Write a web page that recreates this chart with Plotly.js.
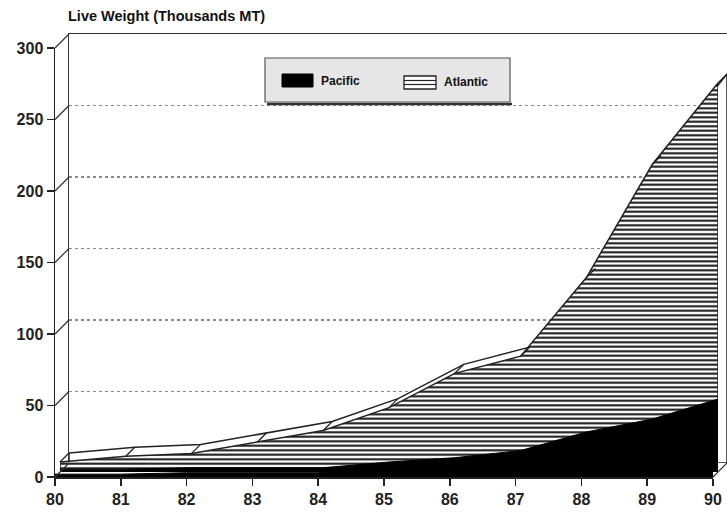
<!DOCTYPE html>
<html>
<head>
<meta charset="utf-8">
<script src="https://cdn.plot.ly/plotly-3.0.1.min.js"></script>
<style>
  html, body { margin: 0; padding: 0; background: #ffffff; }
  #chart { width: 727px; height: 512px; }
</style>
</head>
<body>
<div id="chart"></div>
<script>
// ---- data ----
const years = [80, 81, 82, 83, 84, 85, 86, 87, 88, 89, 90];
const yearLabels = ['80', '81', '82', '83', '84', '85', '86', '87', '88', '89', '90'];
const pacific = [2, 2, 3, 3, 3, 7, 10, 15, 28, 37, 51];
const atlantic = [7, 11, 13, 21, 29, 45, 69, 81, 136, 215, 272];
const yTicks = [0, 50, 100, 150, 200, 250, 300];
const seriesNames = ['Pacific', 'Atlantic'];
const titleText = 'Live Weight (Thousands MT)';

// ---- geometry of the pseudo-3D frame (pixels) ----
const L = 55, R = 0, T = 34, B = 35;
const W = 727 - L - R, H = 512 - T - B;   // paper size
const FX = 658, FY = 429;                // front plot size
const DMID = 5, DBACK = 14;              // depth offsets
const xMin = 80, xMax = 90, yMax = 300;
const kx = FX / (xMax - xMin), ky = FY / yMax;

function dom(off, size, total) { return [off / total, (off + size) / total]; }
function px(xpx) { return xpx / W; }          // pixel offset from plot-left -> paper x
function py(ypx) { return ypx / H; }          // pixel offset from plot-bottom -> paper y
function ax(absX) { return (absX - L) / W; }  // absolute page x -> paper x
function ay(absY) { return (512 - B - absY) / H; } // absolute page y -> paper y

// closed polygons built from the data arrays
function poly(vals) {
  return {
    x: years.concat([years[years.length - 1], years[0], years[0]]),
    y: vals.concat([0, 0, vals[0]])
  };
}
const pacPoly = poly(pacific);
const atlPoly = poly(atlantic);

const traces = [
  // Atlantic ribbon back edge (top surface), back layer
  { type: 'scatter', mode: 'lines', x: atlPoly.x, y: atlPoly.y, xaxis: 'x', yaxis: 'y',
    fill: 'toself', fillcolor: '#ffffff', line: { color: '#222', width: 1.5 },
    showlegend: false, hoverinfo: 'skip' },
  // Atlantic front face (hatched)
  { type: 'scatter', mode: 'lines', name: seriesNames[1], x: atlPoly.x, y: atlPoly.y,
    xaxis: 'x2', yaxis: 'y2', fill: 'toself', fillcolor: '#ffffff',
    fillpattern: { shape: '-', size: 4.5, solidity: 0.45, fgcolor: '#111', bgcolor: '#ffffff' },
    line: { color: '#222', width: 1.5 }, showlegend: false },
  // Pacific ribbon back edge
  { type: 'scatter', mode: 'lines', x: pacPoly.x, y: pacPoly.y, xaxis: 'x2', yaxis: 'y2',
    fill: 'toself', fillcolor: '#000000', line: { color: '#000', width: 1 },
    showlegend: false, hoverinfo: 'skip' },
  // Pacific front face
  { type: 'scatter', mode: 'lines', name: seriesNames[0], x: pacPoly.x, y: pacPoly.y,
    xaxis: 'x3', yaxis: 'y3', fill: 'toself', fillcolor: '#000000',
    line: { color: '#000', width: 1 }, showlegend: false }
];

const shapes = [];
// depth lines at each y tick (front axis -> back wall)
yTicks.forEach(v => {
  shapes.push({ type: 'line', xref: 'paper', yref: 'paper',
    x0: 0, y0: py(v * ky), x1: px(DBACK), y1: py(v * ky + DBACK),
    line: { color: '#333', width: 1.2 }, layer: 'above' });
});
// floor edge at the last year
shapes.push({ type: 'line', xref: 'paper', yref: 'paper',
  x0: px(FX), y0: 0, x1: px(FX + DBACK), y1: py(DBACK),
  line: { color: '#333', width: 1.2 }, layer: 'above' });
// facet edges of the Atlantic ribbon top surface
years.forEach((yr, i) => {
  const x0 = DMID + (yr - xMin) * kx, y0 = DMID + atlantic[i] * ky;
  shapes.push({ type: 'line', xref: 'paper', yref: 'paper',
    x0: px(x0), y0: py(y0), x1: px(x0 + DBACK - DMID), y1: py(y0 + DBACK - DMID),
    line: { color: '#222', width: 1.3 }, layer: 'above' });
});
// ---- legend box (drawn by hand to match the original key) ----
shapes.push({ type: 'line', xref: 'paper', yref: 'paper',   // shadow
  x0: ax(267), x1: ax(512), y0: ay(104), y1: ay(104),
  line: { color: '#333', width: 2.5 }, layer: 'above' });
shapes.push({ type: 'rect', xref: 'paper', yref: 'paper',
  x0: ax(265), x1: ax(510), y0: ay(102), y1: ay(58),
  fillcolor: '#e6e6e6', line: { color: '#555', width: 1.2 }, layer: 'above' });
// Pacific swatch
shapes.push({ type: 'rect', xref: 'paper', yref: 'paper',
  x0: ax(282), x1: ax(313), y0: ay(87), y1: ay(74),
  fillcolor: '#000000', line: { color: '#000', width: 1 }, layer: 'above' });
// Atlantic swatch
shapes.push({ type: 'rect', xref: 'paper', yref: 'paper',
  x0: ax(404), x1: ax(436), y0: ay(89), y1: ay(76),
  fillcolor: '#ffffff', line: { color: '#222', width: 1.3 }, layer: 'above' });
[80.5, 84.5].forEach(yy => {
  shapes.push({ type: 'line', xref: 'paper', yref: 'paper',
    x0: ax(404), x1: ax(436), y0: ay(yy), y1: ay(yy),
    line: { color: '#222', width: 1.2 }, layer: 'above' });
});

const legendFont = { family: 'Liberation Sans, Arial, sans-serif', size: 12, color: '#111', weight: 'bold' };
const annotations = [
  { xref: 'paper', yref: 'paper', x: ax(319), y: ay(81), xanchor: 'left', yanchor: 'middle',
    text: seriesNames[0], showarrow: false, font: legendFont },
  { xref: 'paper', yref: 'paper', x: ax(442), y: ay(82), xanchor: 'left', yanchor: 'middle',
    text: seriesNames[1], showarrow: false, font: legendFont }
];

const tickFont = { family: 'Liberation Sans, Arial, sans-serif', size: 16, color: '#222', weight: 'bold' };
const hidden = { showgrid: false, zeroline: false, showline: false, showticklabels: false, ticks: '' };

const layout = {
  width: 727, height: 512,
  margin: { l: L, r: R, t: T, b: B },
  paper_bgcolor: '#ffffff', plot_bgcolor: 'rgba(0,0,0,0)',
  title: { text: titleText, x: 68 / 727, xanchor: 'left', xref: 'container',
           y: 1 - 16 / 512, yanchor: 'middle', yref: 'container',
           font: { family: 'Liberation Sans, Arial, sans-serif', size: 14.5, color: '#111', weight: 'bold' } },
  showlegend: false,
  // back wall
  xaxis: Object.assign({}, hidden, { domain: dom(DBACK, FX, W), range: [xMin, xMax], anchor: 'y',
           side: 'top', showline: true, linecolor: '#333', linewidth: 1.5 }),
  yaxis: Object.assign({}, hidden, { domain: dom(DBACK, FY, H), range: [0, yMax], anchor: 'x',
           showline: true, linecolor: '#333', linewidth: 1.5,
           showgrid: true, tickvals: yTicks.slice(1, -1), gridcolor: '#8a8a8a', griddash: 'dot', gridwidth: 1.2 }),
  // middle depth
  xaxis2: Object.assign({}, hidden, { domain: dom(DMID, FX, W), range: [xMin, xMax], anchor: 'y2' }),
  yaxis2: Object.assign({}, hidden, { domain: dom(DMID, FY, H), range: [0, yMax], anchor: 'x2' }),
  // front plane
  xaxis3: { domain: dom(0, FX, W), range: [xMin, xMax], anchor: 'y3',
            showgrid: false, zeroline: false, showline: true, linecolor: '#222', linewidth: 1.5,
            ticks: 'outside', ticklen: 7, tickwidth: 1.5, tickcolor: '#222',
            tickvals: years, ticktext: yearLabels, tickfont: tickFont },
  yaxis3: { domain: dom(0, FY, H), range: [0, yMax], anchor: 'x3',
            showgrid: false, zeroline: false, showline: true, linecolor: '#222', linewidth: 1.5,
            ticks: 'outside', ticklen: 7, tickwidth: 1.5, tickcolor: '#222',
            tickvals: yTicks, ticktext: yTicks.map(String), tickfont: tickFont },
  shapes: shapes,
  annotations: annotations
};

Plotly.newPlot('chart', traces, layout, { displayModeBar: false, staticPlot: true });
</script>
</body>
</html>
